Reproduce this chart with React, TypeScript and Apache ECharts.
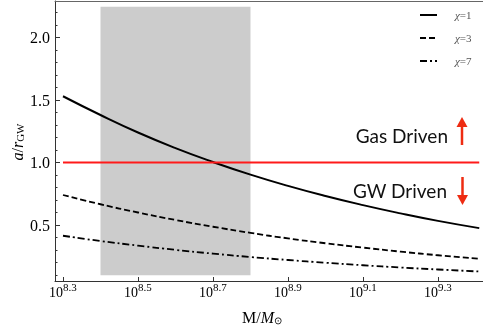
import React, { useEffect, useRef } from "react";
import * as echarts from "echarts";

const massLog = [8.3, 8.4, 8.5, 8.6, 8.7, 8.8, 8.9, 9.0, 9.1, 9.2, 9.3, 9.41];
const chi1 = [1.53, 1.38, 1.24, 1.115, 1.004, 0.903, 0.813, 0.732, 0.659, 0.593, 0.533, 0.475];
const chi3 = [0.74, 0.666, 0.6, 0.54, 0.486, 0.437, 0.393, 0.354, 0.319, 0.287, 0.258, 0.23];
const chi7 = [0.414, 0.372, 0.335, 0.301, 0.271, 0.244, 0.22, 0.198, 0.178, 0.16, 0.144, 0.128];
const thresholdX = [8.3, 9.41];
const thresholdY = [1.0, 1.0];
const shadeX = [8.4, 8.8];
const shadeY = [0.098, 2.246];
const xTicks = [8.3, 8.5, 8.7, 8.9, 9.1, 9.3];
const yTicks = [0.5, 1.0, 1.5, 2.0];
const yMinorTicks = [0.1, 0.2, 0.3, 0.4, 0.6, 0.7, 0.8, 0.9, 1.1, 1.2, 1.3, 1.4, 1.6, 1.7, 1.8, 1.9, 2.1, 2.2];
const legendLabels = ["1", "3", "7"];

const SERIF = "Liberation Serif";
const SANS = "Lato";
const RED = "#ff1a1a";
const ARROW = "#ee2c12";

export default function App() {
  const ref = useRef<HTMLDivElement>(null);
  useEffect(() => {
    if (!ref.current) return;
    const chart = echarts.init(ref.current, undefined, { renderer: "svg" });
    const pairs = (ys: number[]) => massLog.map((x, i) => [x, ys[i]]);
    const xMin = 8.2787, xMax = 9.42, yMin = 0.052, yMax = 2.292;
    const legendY = [15, 38, 61];
    const dashes: (number[] | null)[] = [null, [6, 3], [7, 3, 2, 3]];
    const legendGraphics: any[] = [];
    legendLabels.forEach((lab, i) => {
      legendGraphics.push({
        type: "line",
        shape: { x1: 420, y1: legendY[i], x2: 437, y2: legendY[i] },
        style: { stroke: "#000", lineWidth: 2, lineDash: dashes[i] || undefined },
      });
      legendGraphics.push({
        type: "text",
        x: 455,
        y: legendY[i],
        style: {
          text: `{c|χ}{e|=${lab}}`,
          verticalAlign: "middle",
          rich: {
            c: { fontFamily: SERIF, fontStyle: "italic", fontSize: 11, fill: "#555" },
            e: { fontFamily: SERIF, fontSize: 11, fill: "#555" },
          },
        },
      });
    });

    chart.setOption({
      animation: false,
      textStyle: { fontFamily: SERIF },
      grid: { left: 55, right: 0, top: 1, bottom: 54 },
      xAxis: [
        {
          type: "value",
          min: xMin,
          max: xMax,
          splitLine: { show: false },
          axisLine: { lineStyle: { color: "#333", width: 1 } },
          axisTick: { inside: true, length: 4, customValues: xTicks, lineStyle: { color: "#333" } },
          axisLabel: {
            customValues: xTicks,
            margin: 4,
            fontFamily: SERIF,
            formatter: (v: number) => `{b|10}{s|${v.toFixed(1)}}`,
            rich: {
              b: { fontFamily: SERIF, fontSize: 14, color: "#000", lineHeight: 14, verticalAlign: "bottom" },
              s: { fontFamily: SERIF, fontSize: 11, color: "#000", lineHeight: 11, verticalAlign: "bottom", padding: [0, 0, 7, 0] },
            },
          },
        },
        {
          type: "value",
          position: "top",
          min: xMin,
          max: xMax,
          splitLine: { show: false },
          axisLine: { show: true, lineStyle: { color: "#666", width: 1 } },
          axisTick: { show: false },
          axisLabel: { show: false },
        },
      ],
      yAxis: [
        {
          type: "value",
          min: yMin,
          max: yMax,
          splitLine: { show: false },
          axisLine: { show: true, lineStyle: { color: "#333", width: 1 } },
          axisTick: { inside: true, length: 5, customValues: yTicks, lineStyle: { color: "#333" } },
          axisLabel: {
            customValues: yTicks,
            margin: 5,
            formatter: (v: number) => v.toFixed(1),
            fontFamily: SERIF,
            fontSize: 16,
            color: "#000",
          },
        },
        {
          type: "value",
          position: "left",
          min: yMin,
          max: yMax,
          splitLine: { show: false },
          axisLine: { show: false },
          axisTick: { show: true, inside: true, length: 2.5, customValues: yMinorTicks, lineStyle: { color: "#333" } },
          axisLabel: { show: false },
        },
      ],
      series: [
        {
          type: "line",
          data: [],
          silent: true,
          markArea: {
            silent: true,
            itemStyle: { color: "#cccccc" },
            data: [[{ coord: [shadeX[0], shadeY[0]] }, { coord: [shadeX[1], shadeY[1]] }]],
          },
        },
        {
          type: "line",
          data: pairs(chi1),
          smooth: true,
          showSymbol: false,
          lineStyle: { color: "#000", width: 2 },
        },
        {
          type: "line",
          data: pairs(chi3),
          smooth: true,
          showSymbol: false,
          lineStyle: { color: "#000", width: 1.8, type: [6, 3] },
        },
        {
          type: "line",
          data: pairs(chi7),
          smooth: true,
          showSymbol: false,
          lineStyle: { color: "#000", width: 1.8, type: [7, 3, 2, 3] },
        },
        {
          type: "line",
          data: thresholdX.map((x, i) => [x, thresholdY[i]]),
          showSymbol: false,
          lineStyle: { color: RED, width: 2 },
        },
      ],
      graphic: [
        ...legendGraphics,
        {
          type: "text",
          x: 448,
          y: 135,
          style: { text: "Gas Driven", fontFamily: SANS, fontSize: 19, fill: "#111", align: "right", verticalAlign: "middle" },
        },
        {
          type: "text",
          x: 447,
          y: 190,
          style: { text: "GW Driven", fontFamily: SANS, fontSize: 19, fill: "#111", align: "right", verticalAlign: "middle" },
        },
        {
          type: "line",
          shape: { x1: 462, y1: 145, x2: 462, y2: 124 },
          style: { stroke: ARROW, lineWidth: 2.5 },
        },
        {
          type: "polygon",
          shape: { points: [[462, 117], [456.5, 127], [467.5, 127]] },
          style: { fill: ARROW },
        },
        {
          type: "line",
          shape: { x1: 462.5, y1: 177, x2: 462.5, y2: 198 },
          style: { stroke: ARROW, lineWidth: 2.5 },
        },
        {
          type: "polygon",
          shape: { points: [[462.5, 205], [457, 195], [468, 195]] },
          style: { fill: ARROW },
        },
        {
          type: "text",
          x: 17,
          y: 142,
          rotation: Math.PI / 2,
          style: {
            text: "{i|a}{n|/}{i|r}{sub|GW}",
            align: "center",
            verticalAlign: "middle",
            rich: {
              i: { fontFamily: SERIF, fontStyle: "italic", fontSize: 16, fill: "#000", verticalAlign: "bottom", lineHeight: 16 },
              n: { fontFamily: SERIF, fontSize: 16, fill: "#000", verticalAlign: "bottom", lineHeight: 16 },
              sub: { fontFamily: SERIF, fontSize: 11, fill: "#000", verticalAlign: "bottom", lineHeight: 11, padding: [5, 0, 0, 0] },
            },
          },
        },
        {
          type: "text",
          x: 262,
          y: 317,
          style: {
            text: "{n|M/}{i|M}{sub|⊙}",
            align: "center",
            verticalAlign: "middle",
            rich: {
              n: { fontFamily: SERIF, fontSize: 16, fill: "#000", verticalAlign: "bottom", lineHeight: 16 },
              i: { fontFamily: SERIF, fontStyle: "italic", fontSize: 16, fill: "#000", verticalAlign: "bottom", lineHeight: 16 },
              sub: { fontFamily: SERIF, fontSize: 10, fill: "#000", verticalAlign: "bottom", lineHeight: 10, padding: [6, 0, 0, 0] },
            },
          },
        },
      ],
    });
    return () => chart.dispose();
  }, []);
  return <div ref={ref} style={{ position: "fixed", left: 0, top: 0, width: 483, height: 335 }} />;
}
